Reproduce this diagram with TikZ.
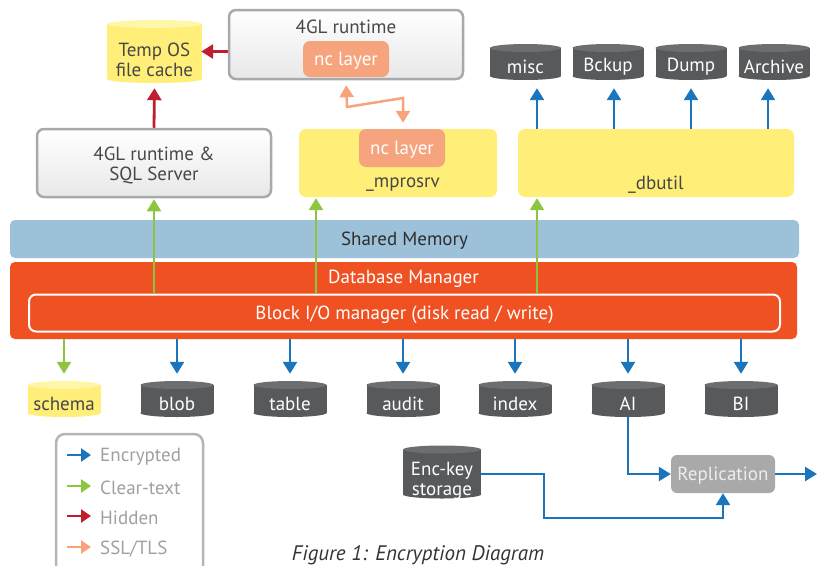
\documentclass[tikz,border=0pt]{standalone}
\usepackage{fontspec}
\setmainfont{PT Sans}
\usetikzlibrary{arrows.meta}
\definecolor{cblue}{HTML}{1B75BC}
\definecolor{cgreen}{HTML}{8CC63F}
\definecolor{cred}{HTML}{BE1E2D}
\definecolor{cssl}{HTML}{F7A47C}
\definecolor{cyel}{HTML}{FFEF78}
\definecolor{cyelT}{HTML}{FFF6A8}
\definecolor{cdark}{HTML}{58595B}
\definecolor{cdarkT}{HTML}{6D6E71}
\definecolor{corange}{HTML}{F05123}
\definecolor{cshared}{HTML}{9DC1D8}
\definecolor{cnc}{HTML}{F6A47E}
\definecolor{ctext}{HTML}{474747}
\definecolor{cborder}{HTML}{A7A9AC}
\definecolor{crepl}{HTML}{A9A9A9}
\definecolor{clegend}{HTML}{A0A0A0}
\definecolor{clegborder}{HTML}{B5B5B5}
\newcommand\cyl[9]{%
 \fill[#6] (#2,{#3+#5/2-4}) ellipse [x radius={#4/2}, y radius=4];
 \fill[#6] ({#2-#4/2},{#3-#5/2+4}) rectangle ({#2+#4/2},{#3+#5/2-4});
 \fill[#7] (#2,{#3-#5/2+4}) ellipse [x radius={#4/2}, y radius=4];
 \node[minimum width=#4, minimum height=#5, inner sep=0pt] (#1) at (#2,#3) {};
 \node[txt, #8] (#1-t) at (#2,{#3+3}) {#9};
}
\tikzset{
 txt/.style={font=\fontsize{19}{20}\selectfont, inner sep=0pt, align=center},
 lbl/.style={txt, yshift=-2pt},
 graybox/.style={draw=cborder, line width=2.5pt, rounded corners=7pt, top color=white, bottom color=black!9, text=ctext, txt},
 ybox/.style={fill=cyel, rounded corners=7pt},
 ncbox/.style={fill=cnc, rounded corners=7pt, text=white, txt},
 tip/.style={-{Triangle[width=14pt,length=12pt]}},
 barr/.style={tip, draw=cblue, line width=2.5pt},
 garr/.style={tip, draw=cgreen, line width=2.2pt},
 rarr/.style={tip, draw=cred, line width=2.8pt},
 sarr/.style={{Triangle[width=14pt,length=12pt]}-{Triangle[width=14pt,length=12pt]}, draw=cssl, line width=2.5pt},
 larr/.style={-{Triangle[width=13pt,length=10pt]}, line width=2.5pt},
}
\begin{document}
\begin{tikzpicture}[x=1pt,y=-1pt]
\useasboundingbox (0,0) rectangle (818,565);
% top area
\cyl{tmp}{154.5}{51.5}{95}{63}{cyel}{cyelT}{text=ctext, yshift=-5pt}{Temp OS\\file cache}
\node[graybox, minimum width=234, minimum height=69] (rt) at (346,44.5) {};
\node[lbl, text=ctext] (rtt) at (346,25) {4GL runtime};
\node[ncbox, minimum width=86, minimum height=36] (nc1) at (346,59) {};
\node[lbl, text=white] (nc1t) at (346,59) {nc layer};
\node[graybox, minimum width=234, minimum height=68] (sql) at (154,163) {};
\node[lbl, text=ctext] (sqlt) at (154,163) {4GL runtime \&\\SQL Server};
\node[ybox, minimum width=198, minimum height=68] (mp) at (398,163) {};
\node[ncbox, minimum width=86, minimum height=38] (nc2) at (402,148) {};
\node[lbl, text=white] (nc2t) at (402,148) {nc layer};
\node[lbl, text=ctext] (mpt) at (403,183) {\_mprosrv};
\node[ybox, minimum width=276, minimum height=68] (db) at (656,163) {};
\node[lbl, text=ctext] (dbt) at (656,183) {\_dbutil};
\cyl{misc}{525.5}{62}{71}{36}{cdark}{cdarkT}{text=white, yshift=-2pt}{misc}
\cyl{bck}{608}{62}{71}{36}{cdark}{cdarkT}{text=white, yshift=-2pt}{Bckup}
\cyl{dump}{691}{62}{71}{36}{cdark}{cdarkT}{text=white, yshift=-2pt}{Dump}
\cyl{arch}{774}{62}{71}{36}{cdark}{cdarkT}{text=white, yshift=-2pt}{Archive}
% memory / manager
\node[fill=cshared, rounded corners=5pt, minimum width=789, minimum height=38] (shm) at (404.5,239) {};
\node[lbl, text=black!82] (shmt) at (404.5,239) {Shared Memory};
\node[fill=corange, rounded corners=5pt, minimum width=787, minimum height=77] (dbm) at (403.5,300.5) {};
\node[lbl, text=white] (dbmt) at (403.5,277) {Database Manager};
\node[draw=white, line width=2pt, rounded corners=7pt, minimum width=751, minimum height=37] (bio) at (404.5,313) {};
\node[lbl, text=white] (biot) at (404.5,313) {Block I/O manager (disk read / write)};
% bottom cylinders
\cyl{schema}{64}{399}{73}{36}{cyel}{cyelT}{text=ctext, yshift=-2pt}{schema}
\cyl{blob}{177}{399}{73}{36}{cdark}{cdarkT}{text=white, yshift=-2pt}{blob}
\cyl{table}{290}{399}{73}{36}{cdark}{cdarkT}{text=white, yshift=-2pt}{table}
\cyl{audit}{403}{399}{73}{36}{cdark}{cdarkT}{text=white, yshift=-2pt}{audit}
\cyl{index}{515}{399}{73}{36}{cdark}{cdarkT}{text=white, yshift=-2pt}{index}
\cyl{ai}{628}{399}{73}{36}{cdark}{cdarkT}{text=white, yshift=-2pt}{AI}
\cyl{bi}{741}{399}{73}{36}{cdark}{cdarkT}{text=white, yshift=-2pt}{BI}
\cyl{enc}{442}{472}{78}{53}{cdark}{cdarkT}{text=white, yshift=-6pt}{Enc-key\\storage}
\node[fill=crepl, rounded corners=6pt, minimum width=104, minimum height=38] (repl) at (723,474) {};
\node[lbl, text=white!93!black] (replt) at (723,474) {Replication};
% connectors: hidden
\draw[rarr] (rt.west |- tmp.east) -- ([xshift=-1pt]tmp.east);
\draw[rarr, shorten >=5pt] (sql.north) -- (tmp.south);
% ssl
\coordinate (s1) at (347,107);
\coordinate (s2) at (403,98);
\draw[sarr, shorten <=5pt, shorten >=6pt] (nc1.south |- rt.south) -- (s1) -- (s2) -- (s2 |- mp.north);
% green up
\coordinate (g1) at (154,0);
\coordinate (g2) at (316,0);
\coordinate (g3) at (537,0);
\draw[garr, shorten >=1pt] (g1 |- bio.north) -- (g1 |- sql.south);
\draw[garr, shorten >=1pt] (g2 |- bio.north) -- (g2 |- mp.south);
\draw[garr, shorten >=1pt] (g3 |- bio.north) -- (g3 |- db.south);
% blue up
\coordinate (b1) at (537,0);
\coordinate (b2) at (614,0);
\coordinate (b3) at (691,0);
\coordinate (b4) at (768,0);
\draw[barr, shorten >=8pt] (b1 |- db.north) -- (b1 |- misc.south);
\draw[barr, shorten >=8pt] (b2 |- db.north) -- (b2 |- bck.south);
\draw[barr, shorten >=8pt] (b3 |- db.north) -- (b3 |- dump.south);
\draw[barr, shorten >=8pt] (b4 |- db.north) -- (b4 |- arch.south);
% down
\draw[garr, shorten >=7pt] (schema.north |- dbm.south) -- (schema.north);
\draw[barr, shorten >=7pt] (blob.north |- dbm.south) -- (blob.north);
\draw[barr, shorten >=7pt] (table.north |- dbm.south) -- (table.north);
\draw[barr, shorten >=7pt] (audit.north |- dbm.south) -- (audit.north);
\draw[barr, shorten >=7pt] (index.north |- dbm.south) -- (index.north);
\draw[barr, shorten >=7pt] (ai.north |- dbm.south) -- (ai.north);
\draw[barr, shorten >=7pt] (bi.north |- dbm.south) -- (bi.north);
% replication
\draw[barr] (ai.south) -- (ai.south |- repl.west) -- (repl.west);
\coordinate (out) at (817,474);
\draw[barr] (repl.east) -- (out);
\coordinate (k1) at (544,518);
\draw[barr] (enc.east |- repl.west) -| (k1) -| (repl.south);
% legend
\node[draw=clegborder, fill=white, line width=2.5pt, rounded corners=9pt, minimum width=147, minimum height=150] (leg) at (129.5,509) {};
\coordinate (l1) at (67,455);
\coordinate (l2) at (67,486);
\coordinate (l3) at (67,516);
\coordinate (l4) at (67,547);
\draw[larr, cblue] (l1) -- ++(24,0);
\draw[larr, cgreen] (l2) -- ++(24,0);
\draw[larr, cred] (l3) -- ++(24,0);
\draw[larr, cssl] (l4) -- ++(24,0);
\node[lbl, text=clegend, anchor=west] (lt1) at (100,455) {Encrypted};
\node[lbl, text=clegend, anchor=west] (lt2) at (100,486) {Clear-text};
\node[lbl, text=clegend, anchor=west] (lt3) at (100,516) {Hidden};
\node[lbl, text=clegend, anchor=west] (lt4) at (100,547) {SSL/TLS};
\node[txt, text=black!80, font=\fontsize{21}{22}\selectfont\itshape] (cap) at (418,555) {Figure 1: Encryption Diagram};
\end{tikzpicture}
\end{document}
